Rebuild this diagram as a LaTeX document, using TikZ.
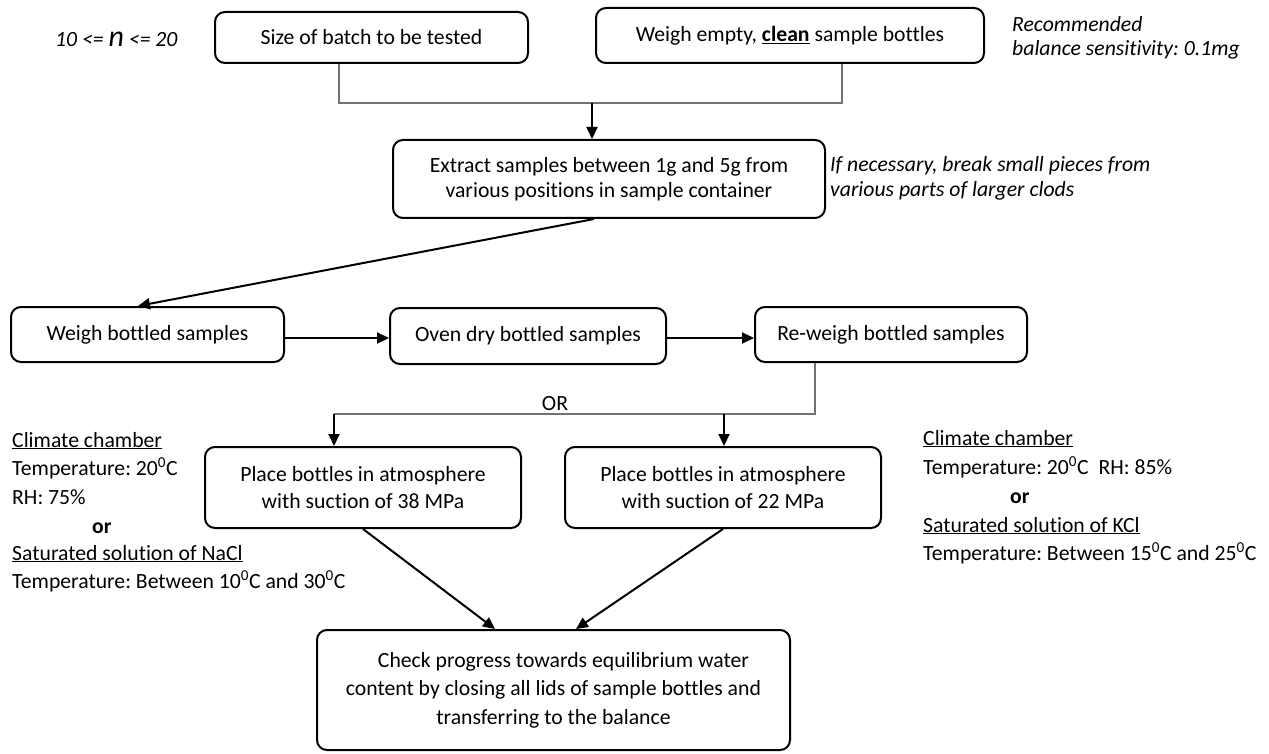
\documentclass[tikz,border=0pt]{standalone}
\usepackage{fontspec}
\setmainfont[Ligatures={NoCommon}]{Carlito}
\usetikzlibrary{arrows.meta}
\frenchspacing
\begin{document}
\begin{tikzpicture}[x=1pt,y=-1pt,
  every node/.style={font=\fontsize{21.7}{27}\selectfont, inner sep=0pt},
  box/.style={draw=black, line width=2pt, rounded corners=10pt, align=center},
  link/.style={draw=black!55, line width=1.3pt},
  arr/.style={draw=black, line width=2pt, -{Triangle[length=12pt,width=11pt]}},
  note/.style={anchor=base west, align=left},
  inote/.style={anchor=base west, align=left, font=\fontsize{21.7}{27}\selectfont\itshape},
]
\useasboundingbox (0,0) rectangle (1269,754);

% boxes
\node[box, minimum width=313, minimum height=51] (size) at (371.5,37.5) {Size of batch to be tested};
\node[box, minimum width=388, minimum height=55] (weighempty) at (790,35.5) {Weigh empty, \textbf{\underline{clean}} sample bottles};
\node[box, minimum width=432, minimum height=78, font=\fontsize{21.7}{25.5}\selectfont] (extract) at (609,179) {Extract samples between 1g and 5g from\\various positions in sample container};
\node[box, minimum width=273, minimum height=55] (weigh) at (147.5,334.5) {Weigh bottled samples};
\node[box, minimum width=276, minimum height=56] (oven) at (528,336) {Oven dry bottled samples};
\node[box, minimum width=272, minimum height=55] (reweigh) at (891,334.5) {Re-weigh bottled samples};
\node[box, minimum width=316, minimum height=81] (placeL) at (363,487.5) {Place bottles in atmosphere\\with suction of 38 MPa};
\node[box, minimum width=316, minimum height=81] (placeR) at (723,487.5) {Place bottles in atmosphere\\with suction of 22 MPa};
\node[box, minimum width=473, minimum height=120, font=\fontsize{21.7}{28.5}\selectfont] (check) at (553.5,690) {\hspace*{20pt}Check progress towards equilibrium water\\content by closing all lids of sample bottles and\\transferring to the balance};

% side notes
\node[inote] (nrange) at (55,47) {10 <= {\fontsize{30}{30}\selectfont n} <= 20};
\node[inote] (rec1) at (1012,32) {Recommended};
\node[inote] (rec2) at (1012,56) {balance sensitivity: 0.1mg};
\node[inote] (nec1) at (830,172) {If necessary, break small pieces from};
\node[inote] (nec2) at (830,197) {various parts of larger clods};

\node[note] (lc1) at (12,447) {\underline{Climate chamber}};
\node[note] (lc2) at (12,475) {Temperature: 20\textsuperscript{0}C};
\node[note] (lc3) at (12,504) {RH: 75\%};
\node[note] (lc4) at (92,533) {\textbf{or}};
\node[note] (lc5) at (12,560) {\underline{Saturated solution of NaCl}};
\node[note] (lc6) at (12,588) {Temperature: Between 10\textsuperscript{0}C and 30\textsuperscript{0}C};

\node[note] (rc1) at (923,445) {\underline{Climate chamber}};
\node[note] (rc2) at (923,474) {Temperature: 20\textsuperscript{0}C\ \ RH: 85\%};
\node[note] (rc3) at (1010,503) {\textbf{or}};
\node[note] (rc4) at (923,532) {\underline{Saturated solution of KCl}};
\node[note] (rc5) at (923,560) {Temperature: Between 15\textsuperscript{0}C and 25\textsuperscript{0}C};

\node (orlabel) at (555,404) {OR};

% junction coordinates
\coordinate (j1) at (339,103);
\coordinate (j2) at (842,103);
\coordinate (j3) at (592,103);
\coordinate (d1) at (594,218);
\coordinate (d2) at (138,307);
\coordinate (h1) at (0,338);
\coordinate (r1) at (815,414);
\coordinate (l1) at (334,414);
\coordinate (r2) at (724,414);
\coordinate (c1) at (495,630);
\coordinate (c2) at (576,630);

% connectors
\draw[link] (j1 |- size.south) -- (j1) -- (j2) -- (j2 |- weighempty.south);
\draw[arr] (j3) -- (j3 |- extract.north);
\draw[arr] (d1 |- extract.south) -- (d2 |- weigh.north);
\draw[arr] (weigh.east |- h1) -- (oven.west |- h1);
\draw[arr] (oven.east |- h1) -- (reweigh.west |- h1);
\draw[link] (r1 |- reweigh.south) -- (r1) -- (l1);
\draw[arr] (l1) -- (l1 |- placeL.north);
\draw[arr] (r2) -- (r2 |- placeR.north);
\draw[arr] (placeL.south) -- (c1 |- check.north);
\draw[arr] (placeR.south) -- (c2 |- check.north);
\end{tikzpicture}
\end{document}
